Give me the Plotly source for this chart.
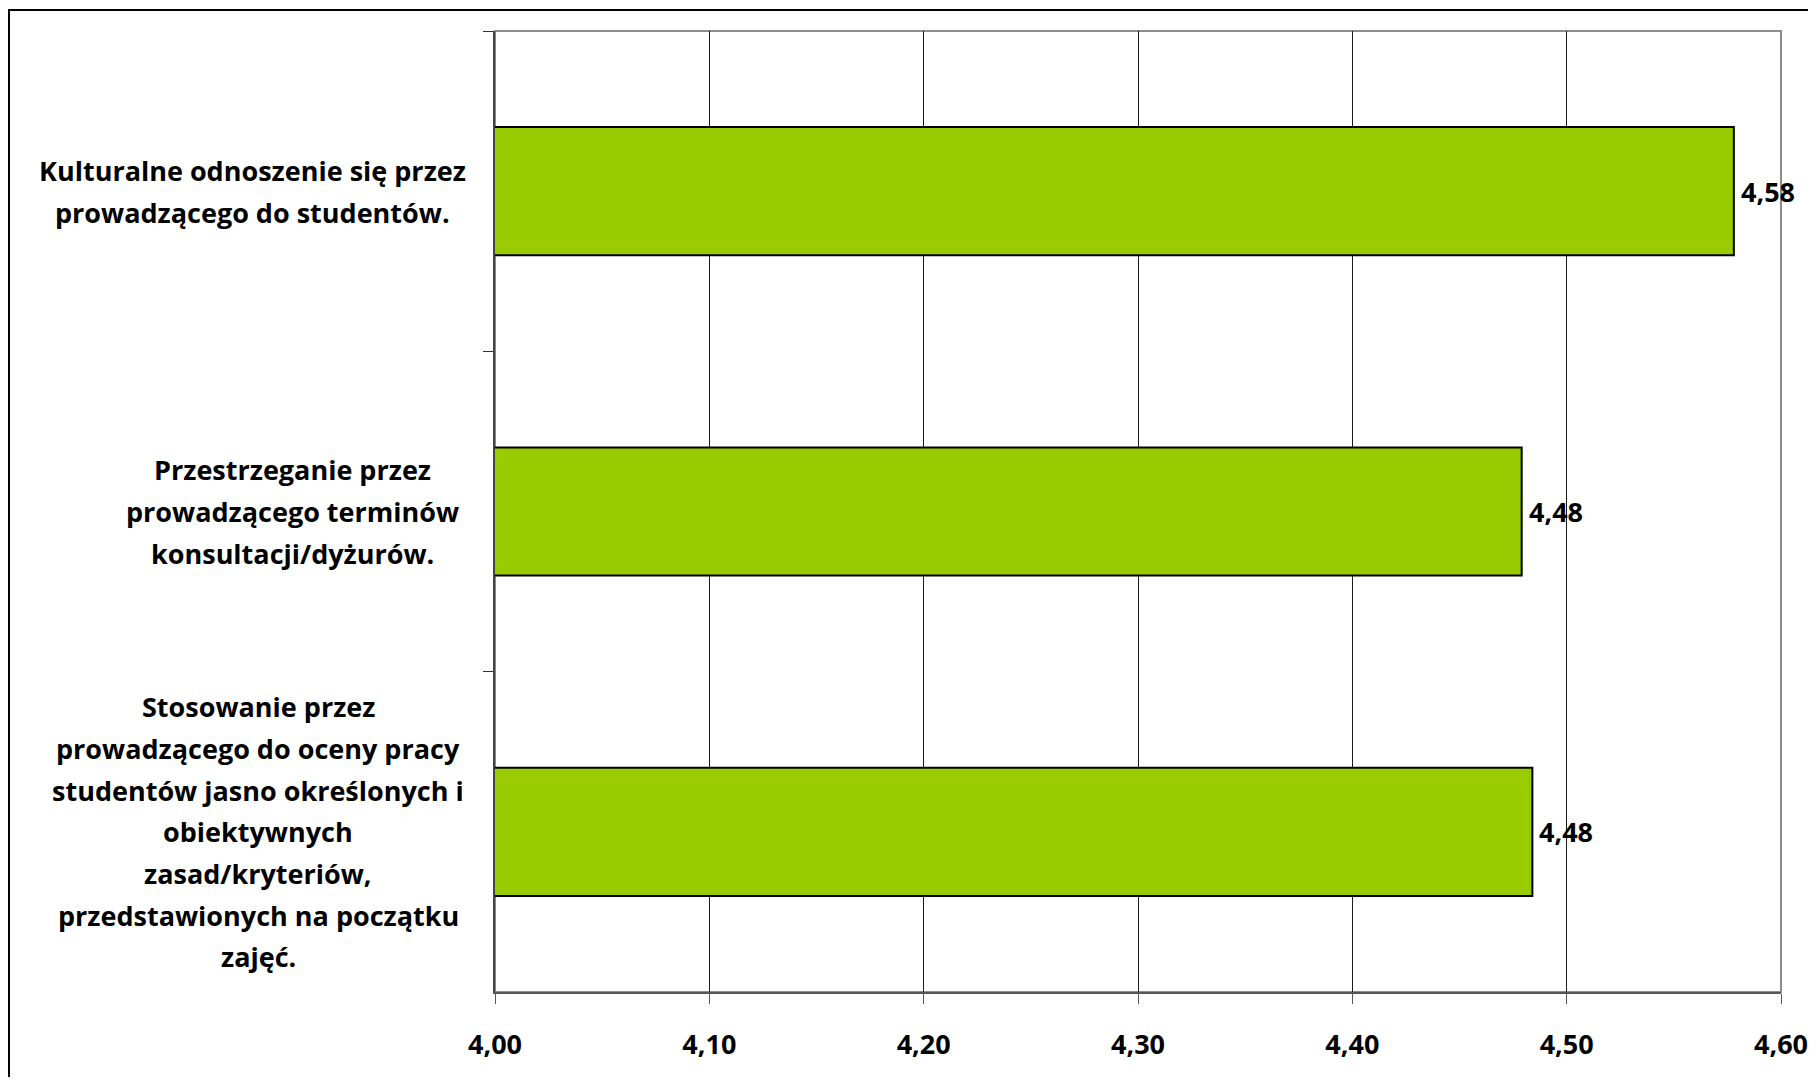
import plotly.graph_objects as go

# ---- data ----
label_lines = [
    ["Kulturalne odnoszenie się przez", "prowadzącego do studentów."],
    ["Przestrzeganie przez", "prowadzącego terminów", "konsultacji/dyżurów."],
    ["Stosowanie przez", "prowadzącego do oceny pracy", "studentów jasno określonych i",
     "obiektywnych", "zasad/kryteriów,", "przedstawionych na początku", "zajęć."],
]
categories = [" ".join(l) for l in label_lines]
values = [4.578, 4.479, 4.484]
x_ticks = [4.0, 4.1, 4.2, 4.3, 4.4, 4.5, 4.6]

# ---- style ----
OFF = 8  # page body margin
W, H = 1816 - OFF, 1085 - 2 * OFF
L, T = 495 - OFF, 31 - OFF
R = W - (1781 - OFF)
B = H - (992 - OFF)
PW, PH = W - L - R, H - T - B
FONT = "Open Sans"
FS = 27
label_centers_px = [252, 292, 258]
LINE_H = 41.7

fig = go.Figure()
fig.add_trace(go.Bar(
    x=values, y=categories, orientation="h",
    marker=dict(color="#99CC00", line=dict(color="#000000", width=2)),
    hoverinfo="skip",
))

annotations = []
for cat, lines, cx in zip(categories, label_lines, label_centers_px):
    n = len(lines)
    for j, line in enumerate(lines):
        annotations.append(dict(
            x=0, xref="paper", y=cat, yref="y",
            xanchor="center", yanchor="middle",
            xshift=cx - 495, yshift=((n - 1) / 2 - j) * LINE_H,
            text=line, showarrow=False,
            font=dict(family=FONT, size=FS, color="#000000", weight="bold"),
        ))
for cat, v in zip(categories, values):
    annotations.append(dict(
        x=v, xref="x", y=cat, yref="y",
        xanchor="left", yanchor="middle", xshift=5,
        text=f"{v:.2f}".replace(".", ","), showarrow=False,
        font=dict(family=FONT, size=FS, color="#000000", weight="bold"),
    ))

shapes = [
    # plot-area border (gray)
    dict(type="rect", xref="paper", yref="paper", x0=0, x1=1, y0=0, y1=1,
         line=dict(color="#8C8C8C", width=2), layer="below"),
    # outer chart border
    dict(type="rect", xref="paper", yref="paper",
         x0=(9 - 495) / PW, x1=(1840 - 495) / PW,
         y0=(992 - 1110) / PH, y1=(992 - 10) / PH,
         line=dict(color="#000000", width=2), layer="below"),
]

fig.update_layout(
    width=W, height=H,
    margin=dict(l=L, r=R, t=T, b=B, autoexpand=False),
    paper_bgcolor="white", plot_bgcolor="white",
    separators=", ",
    showlegend=False,
    bargap=0.6,
    annotations=annotations,
    shapes=shapes,
    font=dict(family=FONT, size=FS, color="#000000"),
)
fig.update_xaxes(
    range=[4.0, 4.6], tickvals=x_ticks, tickformat=".2f",
    showgrid=True, gridcolor="#1A1A1A", gridwidth=1,
    showline=True, linecolor="#555555", linewidth=2,
    ticks="outside", ticklen=10, tickcolor="#555555", tickwidth=1,
    tickfont=dict(family=FONT, size=FS, color="#000000", weight="bold"),
    ticklabelstandoff=18, ticklabeloverflow="allow", zeroline=False,
)
fig.update_yaxes(
    type="category", autorange="reversed",
    tickson="boundaries", ticks="outside", ticklen=10,
    tickcolor="#333333", tickwidth=1,
    showticklabels=False, showgrid=False,
    showline=True, linecolor="#444444", linewidth=2,
)

fig.write_html("out.html")
